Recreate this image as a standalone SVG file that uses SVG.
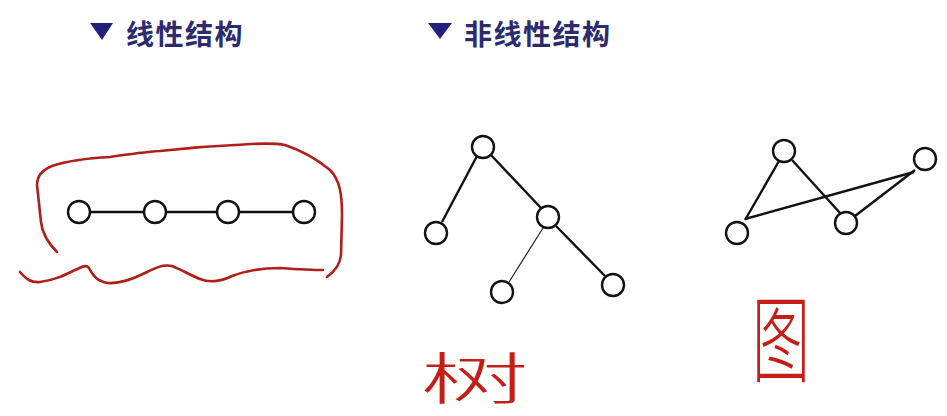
<svg xmlns="http://www.w3.org/2000/svg" width="947" height="416" viewBox="0 0 947 416">
<style>
.node{fill:#fff;stroke:#111;stroke-width:2.4}
.edge{stroke:#111;stroke-width:2.4;fill:none}
.thin{stroke:#222;stroke-width:1.2}
.head{font-family:"Noto Sans CJK SC","Noto Sans",sans-serif;font-weight:bold;font-size:28px;fill:#2b2b6e;letter-spacing:1.5px}
.tri{fill:#22227a}
.hand{font-family:"Noto Sans CJK SC",sans-serif;font-weight:300;fill:#c41e16}
.red{fill:none;stroke:#b01e1a;stroke-width:2.6;stroke-linecap:round;stroke-linejoin:round}
</style>
<rect width="947" height="416" fill="#fff"/>
<g id="heading-linear">
<polygon class="tri" points="90,23 113,23 102,40"/>
<text class="head" x="126" y="45">线性结构</text>
</g>
<g id="heading-nonlinear">
<polygon class="tri" points="428,23 452,23 440,39"/>
<text class="head" x="464" y="45">非线性结构</text>
</g>
<g id="annotation-loop">
<path class="red" d="M57,252 C48,243 42,232 41,222 L37,185 C37,176 42,170 52,166 C70,160 90,158 110,157 C130,154 145,152 160,151 C185,148 210,146 235,145 C255,144 270,142 285,145 C300,150 318,160 330,170 C340,180 342,195 342,215 L341,255 C340,266 334,272 327,277"/>
<path class="red" d="M20,272 C26,279 31,283 40,282 C55,280 65,275 75,270 C82,267 86,264 89,268 C93,276 97,281 108,283 C122,284 135,278 145,273 C155,268 163,264 172,266 C182,270 190,275 200,279 C210,283 220,282 232,276 C245,271 260,268 280,268 C295,269 310,270 323,270"/>
</g>
<g id="connectors">
<line class="edge" x1="90" y1="212" x2="143" y2="212"/>
<line class="edge" x1="166" y1="212" x2="217" y2="212"/>
<line class="edge" x1="239" y1="212" x2="293" y2="212"/>
<line class="edge" x1="477" y1="156" x2="442" y2="222"/>
<line class="edge" x1="491" y1="155" x2="541" y2="208"/>
<line class="thin" x1="543" y1="228" x2="509" y2="282"/>
<line class="edge" x1="556" y1="226" x2="605" y2="276"/>
<line class="edge" x1="779" y1="161" x2="745" y2="220"/>
<line class="edge" x1="792" y1="160" x2="840" y2="213"/>
<line class="edge" x1="745" y1="219" x2="914" y2="172"/>
<line class="edge" x1="855" y1="216" x2="915" y2="170"/>
</g>
<g id="linear-node-1"><circle class="node" cx="79" cy="212" r="11"/></g>
<g id="linear-node-2"><circle class="node" cx="155" cy="212" r="11"/></g>
<g id="linear-node-3"><circle class="node" cx="228" cy="212" r="11"/></g>
<g id="linear-node-4"><circle class="node" cx="304" cy="212" r="11"/></g>
<g id="tree-root"><circle class="node" cx="483" cy="147" r="11"/></g>
<g id="tree-left"><circle class="node" cx="436" cy="233" r="11"/></g>
<g id="tree-mid"><circle class="node" cx="548" cy="217" r="11"/></g>
<g id="tree-bottom-left"><circle class="node" cx="502" cy="292" r="11"/></g>
<g id="tree-bottom-right"><circle class="node" cx="613" cy="285" r="11"/></g>
<g id="graph-a"><circle class="node" cx="784" cy="151" r="11"/></g>
<g id="graph-b"><circle class="node" cx="925" cy="159" r="11"/></g>
<g id="graph-c"><circle class="node" cx="846" cy="223" r="11"/></g>
<g id="graph-d"><circle class="node" cx="737" cy="233" r="11"/></g>
<g id="label-tree">
<text class="hand" font-size="56" transform="translate(420,399) scale(1.95,1)">树</text>
</g>
<g id="label-graph">
<text class="hand" font-size="58" transform="translate(752,375) scale(1,1.65)">图</text>
</g>
</svg>
